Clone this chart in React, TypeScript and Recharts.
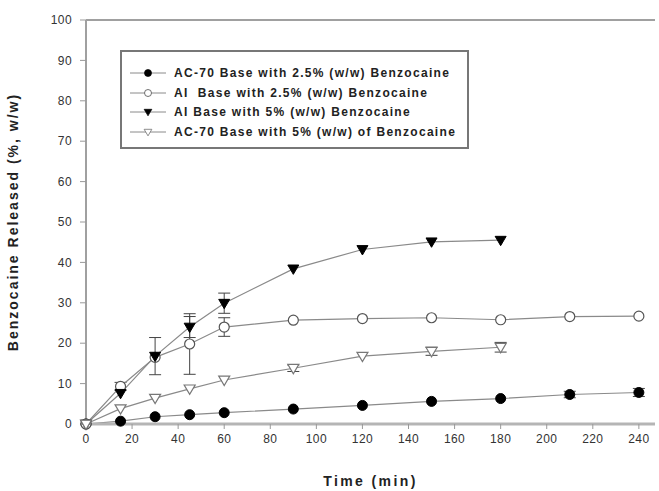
import React from 'react';
import {
  LineChart,
  Line,
  XAxis,
  YAxis,
  ErrorBar,
  ReferenceLine,
} from 'recharts';

// time points (min)
const times = [0, 15, 30, 45, 60, 90, 120, 150, 180, 210, 240];

// % released
const ac70Low = [0, 0.7, 1.8, 2.3, 2.8, 3.7, 4.6, 5.6, 6.3, 7.3, 7.8];
const aiLow = [0, 9.3, 16.5, 19.8, 24, 25.7, 26.1, 26.3, 25.8, 26.6, 26.7];
const aiHigh = [0, 7.6, 16.8, 24, 29.9, 38.4, 43.2, 45.1, 45.5, null, null];
const ac70High = [0, 3.8, 6.4, 8.7, 10.9, 13.8, 16.8, 18, 19, null, null];

// standard deviations (only where bars are visible)
const ac70LowErr = [null, null, null, null, null, null, null, null, null, 0.8, 1];
const aiLowErr = [null, 1, null, 7.5, 2.3, null, null, null, null, null, null];
const aiHighErr = [null, null, 4.6, 2.6, 2.5, null, null, null, null, null, null];
const ac70HighErr = [null, null, null, null, null, 0.8, null, 1, 1.2, null, null];

const xTicks = [0, 20, 40, 60, 80, 100, 120, 140, 160, 180, 200, 220, 240];
const yTicks = [0, 10, 20, 30, 40, 50, 60, 70, 80, 90, 100];

const labels = [
  'AC-70 Base with 2.5% (w/w) Benzocaine',
  'AI  Base with 2.5% (w/w) Benzocaine',
  'AI Base with 5% (w/w) Benzocaine',
  'AC-70 Base with 5% (w/w) of Benzocaine',
];

const data = times.map((t, i) => ({
  t,
  a: ac70Low[i],
  b: aiLow[i],
  c: aiHigh[i],
  d: ac70High[i],
  aErr: ac70LowErr[i] ?? undefined,
  bErr: aiLowErr[i] ?? undefined,
  cErr: aiHighErr[i] ?? undefined,
  dErr: ac70HighErr[i] ?? undefined,
}));

const FONT = '"Liberation Sans", Arial, sans-serif';
const LINE = '#8a8a8a';

type Kind = 'fillCircle' | 'openCircle' | 'fillTri' | 'openTri';

function Marker({ cx, cy, kind }: { cx: number; cy: number; kind: Kind }) {
  if (cx == null || cy == null || isNaN(cy)) return null;
  if (kind === 'fillCircle')
    return <circle cx={cx} cy={cy} r={5} fill="#000" stroke="#000" />;
  if (kind === 'openCircle')
    return <circle cx={cx} cy={cy} r={5} fill="#fff" stroke="#555" strokeWidth={1.2} />;
  const s = 5.5;
  const pts = `${cx - s},${cy - s * 0.7} ${cx + s},${cy - s * 0.7} ${cx},${cy + s}`;
  if (kind === 'fillTri') return <polygon points={pts} fill="#000" stroke="#000" />;
  return <polygon points={pts} fill="#fff" stroke="#777" strokeWidth={1.2} />;
}

const kinds: Kind[] = ['fillCircle', 'openCircle', 'fillTri', 'openTri'];

function LegendBox() {
  return (
    <div
      style={{
        position: 'absolute',
        left: 120,
        top: 50,
        width: 349,
        height: 99,
        border: '2px solid #777',
        background: '#fff',
        boxSizing: 'border-box',
        fontFamily: FONT,
        fontWeight: 'bold',
        fontSize: 12,
        letterSpacing: 1.3,
        color: '#222',
      }}
    >
      {labels.map((l, i) => (
        <div
          key={l}
          style={{
            position: 'absolute',
            left: 8,
            top: 14 + i * 19.5,
            height: 14,
            display: 'flex',
            alignItems: 'center',
            whiteSpace: 'pre',
          }}
        >
          <svg width={36} height={14} style={{ marginRight: 8 }}>
            <line x1={0} y1={7} x2={36} y2={7} stroke={LINE} strokeWidth={1} />
            <g transform="translate(18,7) scale(0.7) translate(-18,-7)">
              <Marker cx={18} cy={7} kind={kinds[i]} />
            </g>
          </svg>
          {l}
        </div>
      ))}
    </div>
  );
}

export default function App() {
  const keys = ['a', 'b', 'c', 'd'];
  const tickStyle = { fill: '#333', fontSize: 12, fontFamily: FONT, letterSpacing: 0.4 };
  return (
    <div
      style={{
        position: 'absolute',
        left: 0,
        top: 0,
        width: 659,
        height: 491,
        background: '#fff',
      }}
    >
      <LineChart
        width={659}
        height={491}
        data={data}
        margin={{ top: 20, right: 4, bottom: 0, left: 0 }}
      >
        <XAxis
          dataKey="t"
          type="number"
          domain={[0, 247]}
          ticks={xTicks}
          interval={0}
          height={67}
          stroke="#b5b5b5"
          strokeWidth={3}
          tickSize={5}
          tickMargin={5}
          tick={tickStyle}
          tickLine={{ stroke: '#999', strokeWidth: 1 }}
          label={{
            value: 'Time (min)',
            position: 'insideBottom',
            offset: 5,
            fill: '#222',
            fontSize: 14,
            fontWeight: 'bold',
            fontFamily: FONT,
            letterSpacing: 2.4,
          }}
        />
        <YAxis
          type="number"
          domain={[0, 100]}
          ticks={yTicks}
          interval={0}
          width={86}
          stroke="#a0a0a0"
          strokeWidth={2}
          tickSize={6}
          tickMargin={8}
          tick={tickStyle}
          tickLine={{ stroke: '#999', strokeWidth: 1 }}
          label={{
            value: 'Benzocaine Released (%, w/w)',
            angle: -90,
            position: 'insideLeft',
            offset: 13,
            style: { textAnchor: 'middle', letterSpacing: 2 },
            fill: '#222',
            fontSize: 14,
            fontWeight: 'bold',
            fontFamily: FONT,
          }}
        />
        <ReferenceLine y={100} stroke="#a0a0a0" strokeWidth={2} />
        {keys.map((k, i) => (
          <Line
            key={k}
            dataKey={k}
            type="linear"
            stroke={LINE}
            strokeWidth={1.2}
            isAnimationActive={false}
            dot={(p: any) => <Marker key={`${k}-${p.index}`} cx={p.cx} cy={p.cy} kind={kinds[i]} />}
            activeDot={false}
          >
            <ErrorBar dataKey={`${k}Err`} direction="y" width={6} stroke="#444" strokeWidth={1} />
          </Line>
        ))}
      </LineChart>
      <LegendBox />
    </div>
  );
}
